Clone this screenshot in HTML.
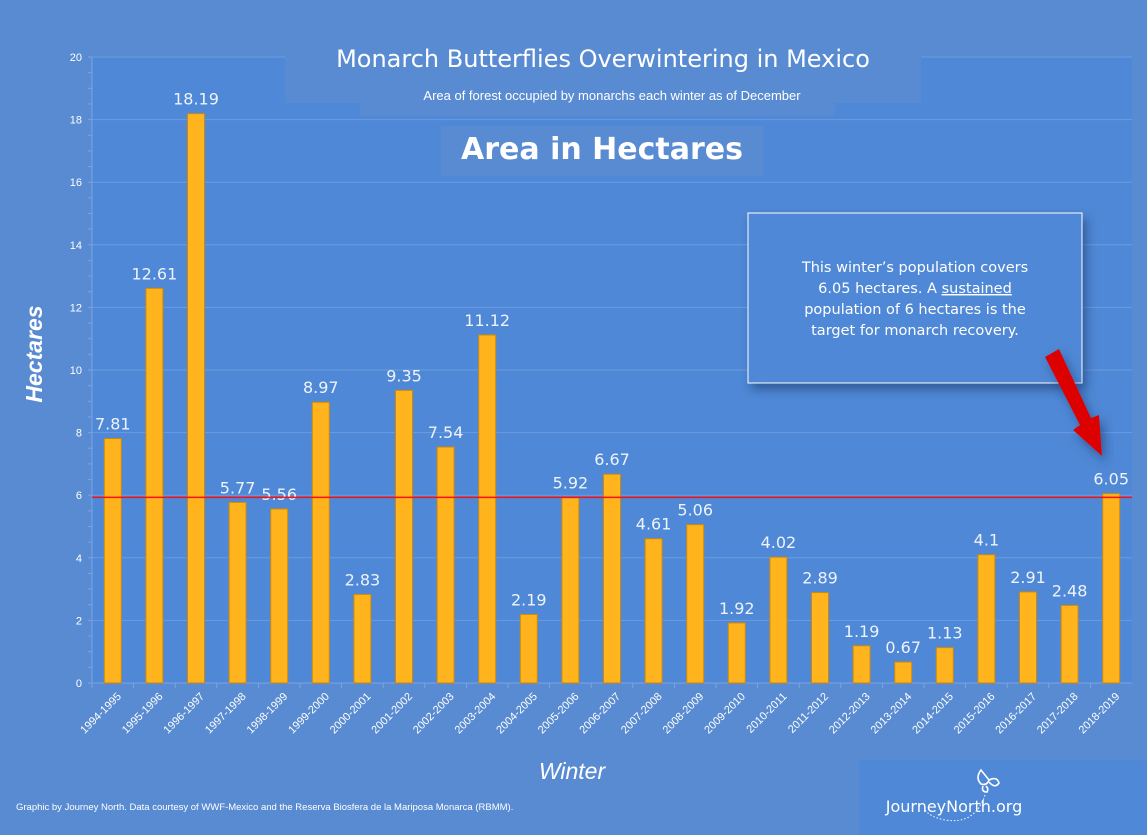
<!DOCTYPE html>
<html><head><meta charset="utf-8">
<style>
html,body{margin:0;padding:0;width:1147px;height:835px;overflow:hidden;background:#598bd2;font-family:"Liberation Sans",sans-serif}
svg{display:block}
</style></head>
<body>
<svg width="1147" height="835" viewBox="0 0 1147 835" xmlns="http://www.w3.org/2000/svg">
<defs>
<filter id="sh" x="-10%" y="-10%" width="130%" height="140%"><feDropShadow dx="4" dy="6" stdDeviation="5" flood-color="#1a3a70" flood-opacity="0.6"/></filter>
</defs>
<rect x="0" y="0" width="1147" height="835" fill="#598bd2"/>
<rect x="92" y="57" width="1040" height="626" fill="#4f88d6"/>
<g id="grid"></g>
<g id="bars"></g>
<g id="labels"></g>
<g id="xlabels"></g>
<rect x="285" y="45" width="636" height="58" fill="#598bd2"/>
<text x="603" y="67" text-anchor="middle" font-size="24" fill="#fff" font-family="'DejaVu Sans',sans-serif">Monarch Butterflies Overwintering in Mexico</text>
<rect x="360" y="78" width="475" height="38" fill="#598bd2"/>
<text x="612" y="100" text-anchor="middle" font-size="13" fill="#fff">Area of forest occupied by monarchs each winter as of December</text>
<rect x="441" y="126" width="322" height="50" fill="#598bd2"/>
<text x="602" y="159" text-anchor="middle" font-size="30" font-weight="bold" fill="#fff" font-family="'DejaVu Sans',sans-serif">Area in Hectares</text>
<text transform="translate(42,354) rotate(-90)" text-anchor="middle" font-size="23" font-weight="bold" font-style="italic" fill="#fff">Hectares</text>
<text x="572" y="779" text-anchor="middle" font-size="23" font-style="italic" fill="#fff">Winter</text>
<text x="16" y="810" font-size="9.5" fill="#fff">Graphic by Journey North. Data courtesy of WWF-Mexico and the Reserva Biosfera de la Mariposa Monarca (RBMM).</text>
<rect x="859" y="760" width="288" height="75" fill="#4f88d6"/>
<g fill="none" stroke="#fff" stroke-width="1.6">
<path d="M981 770 q-6 8 0 14 q6 2 8 -4 z"/><path d="M989 780 q8 -4 10 3 q-4 6 -10 -1"/><path d="M983 786 q-2 6 4 6 q2 -3 -1 -6"/>
<path d="M985 795 q-10 30 -40 25 q-15 -3 -20 -10" stroke-dasharray="1.5 2" stroke-width="1"/>
</g>
<text x="954" y="812" text-anchor="middle" font-size="16" fill="#fff" font-family="'DejaVu Sans',sans-serif">JourneyNorth.org</text>
<rect x="748" y="213" width="334" height="170" fill="#4f88d6" stroke="#fff" stroke-width="1" filter="url(#sh)"/>
<g font-size="14.5" fill="#fff" text-anchor="middle" font-family="'DejaVu Sans',sans-serif">
<text x="915" y="272">This winter’s population covers</text>
<text x="915" y="293">6.05 hectares. A <tspan text-decoration="underline">sustained</tspan></text>
<text x="915" y="314">population of 6 hectares is the</text>
<text x="915" y="335">target for monarch recovery.</text>
</g>
<polygon points="1045,357 1059,349 1091,418 1099,415 1102,456 1073,430 1080,425" fill="#dd0000" filter="url(#sh)"/>
<line id="target" x1="92" x2="1132" stroke="#ff1010" stroke-width="1.5"/>
</svg>
<script>
const categories=["1994-1995","1995-1996","1996-1997","1997-1998","1998-1999","1999-2000","2000-2001","2001-2002","2002-2003","2003-2004","2004-2005","2005-2006","2006-2007","2007-2008","2008-2009","2009-2010","2010-2011","2011-2012","2012-2013","2013-2014","2014-2015","2015-2016","2016-2017","2017-2018","2018-2019"];
const values=[7.81,12.61,18.19,5.77,5.56,8.97,2.83,9.35,7.54,11.12,2.19,5.92,6.67,4.61,5.06,1.92,4.02,2.89,1.19,0.67,1.13,4.1,2.91,2.48,6.05];
const valueLabels=["7.81","12.61","18.19","5.77","5.56","8.97","2.83","9.35","7.54","11.12","2.19","5.92","6.67","4.61","5.06","1.92","4.02","2.89","1.19","0.67","1.13","4.1","2.91","2.48","6.05"];
const yTicks=[0,2,4,6,8,10,12,14,16,18,20];
const targetValue=5.93;
const NS="http://www.w3.org/2000/svg";
const X0=92,X1=1132,Y0=683,Y1=57,YMAX=20;
const y=v=>Y0-(v/YMAX)*(Y0-Y1);
const bw=(X1-X0)/categories.length;
const xc=i=>X0+bw*(i+0.5);
function mk(tag,attrs,parent){const e=document.createElementNS(NS,tag);for(const k in attrs)e.setAttribute(k,attrs[k]);parent.appendChild(e);return e;}
const grid=document.getElementById('grid');
yTicks.forEach(t=>{
 if(t>0){const g=mk('line',{x1:X0,x2:X1,y1:y(t),y2:y(t),stroke:'#6c9be0','stroke-width':1},grid);
 
 }
 const tx=mk('text',{x:X0-10,y:y(t)+4,'text-anchor':'end','font-size':11,fill:'#fff'},grid);
 tx.textContent=t;
 
 
});
for(let v=0;v<=YMAX;v+=0.5){mk('line',{x1:X0-4,x2:X0,y1:y(v),y2:y(v),stroke:'#7aa4e3','stroke-width':1},grid);}
const ax=mk('line',{x1:X0,x2:X0,y1:Y1,y2:Y0,stroke:'#7aa4e3'},grid);


const xa=mk('line',{x1:X0-4,x2:X1,y1:Y0,y2:Y0,stroke:'#7aa4e3'},grid);


const bars=document.getElementById('bars'),labels=document.getElementById('labels'),xl=document.getElementById('xlabels');
categories.forEach((c,i)=>{
 mk('line',{x1:X0+bw*i,x2:X0+bw*i,y1:Y0,y2:Y0+5,stroke:'#7aa4e3'},grid);
 const w=17;
 const r=mk('rect',{x:xc(i)-w/2,y:y(values[i]),width:w,height:Y0-y(values[i]),fill:'#ffb31c',stroke:'#c98a10','stroke-width':1},bars);
 
 
 const t=mk('text',{x:xc(i),y:y(values[i])-9,'text-anchor':'middle','font-size':16,fill:'#eef3fb','font-family':"'DejaVu Sans',sans-serif"},labels);
 t.textContent=valueLabels[i];
 
 
 const l=mk('text',{transform:`translate(${xc(i)+9},${Y0+14}) rotate(-45)`,'text-anchor':'end','font-size':11,fill:'#fff'},xl);
 l.textContent=c;
 
 
});
const tl=document.getElementById('target');
tl.setAttribute('y1',y(targetValue));tl.setAttribute('y2',y(targetValue));
</script>
</body></html>
